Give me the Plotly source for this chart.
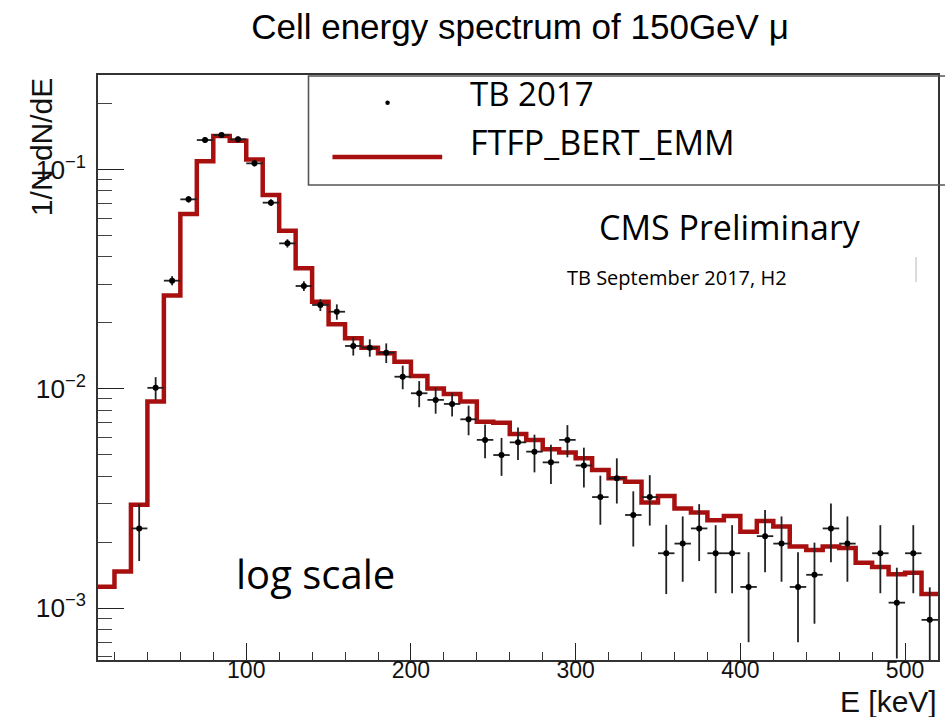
import plotly.graph_objects as go

# ---------------- data ----------------
# Simulation histogram (FTFP_BERT_EMM): 10 keV bins from 10 to 520 keV
bin_edges = list(range(10, 530, 10))
mc_values = [
    0.001254, 0.00147, 0.00296, 0.00874, 0.0266, 0.0626, 0.109, 0.142, 0.135, 0.111,
    0.0764, 0.0525, 0.0354, 0.0249, 0.0197, 0.0170, 0.0154, 0.01452, 0.01329, 0.01143,
    0.01004, 0.00946, 0.00874, 0.00708, 0.00701, 0.00622, 0.00585, 0.0053, 0.00512, 0.00482,
    0.00427, 0.00391, 0.00377, 0.00303, 0.00325, 0.00285, 0.00273, 0.00252, 0.00263, 0.00223,
    0.0025, 0.00236, 0.00191, 0.00184, 0.00191, 0.00188, 0.00161, 0.00154, 0.00143, 0.00145,
    0.00116,
]

# Test beam data (TB 2017): bin centres, values, errors
data_energy = [35, 45, 55, 65, 75, 85, 95, 105, 115, 125,
               135, 145, 155, 165, 175, 185, 195, 205, 215, 225,
               235, 245, 255, 265, 275, 285, 295, 305, 315, 325,
               335, 345, 355, 365, 375, 385, 395, 405, 415, 425,
               435, 445, 455, 465, 485, 495, 505, 515]
data_values = [0.00231, 0.0101, 0.0311, 0.0730, 0.136, 0.1433, 0.137, 0.1065, 0.0705, 0.046,
               0.0294, 0.0241, 0.02245, 0.01567, 0.0154, 0.0146, 0.01135, 0.00954, 0.0089, 0.00853,
               0.00726, 0.00585, 0.00499, 0.00570, 0.00517, 0.00462, 0.00585, 0.00447, 0.00321, 0.00391,
               0.00266, 0.00321, 0.00178, 0.00197, 0.00231, 0.00178, 0.00178, 0.00125, 0.00213, 0.00197,
               0.00125, 0.00142, 0.00231, 0.00197, 0.00178, 0.00106, 0.00178, 0.000885]
data_errors = [0.00067, 0.0012, 0.0015, 0.0025, 0.004, 0.004, 0.004, 0.0035, 0.0025, 0.002,
               0.0015, 0.0015, 0.0018, 0.0015, 0.0014, 0.0015, 0.0014, 0.0013, 0.0012, 0.00105,
               0.00112, 0.00102, 0.00098, 0.00096, 0.00101, 0.00094, 0.00098, 0.00092, 0.00081, 0.00091,
               0.00075, 0.00083, 0.00062, 0.00065, 0.00067, 0.00061, 0.00061, 0.00055, 0.00067, 0.00065,
               0.00055, 0.00057, 0.00069, 0.00065, 0.00061, 0.00047, 0.00061, 0.00036]

x_tick_values = [100, 200, 300, 400, 500]

# ---------------- figure ----------------
W, H = 945, 717
L, R, T, B = 98, 5, 75, 57
PW, PH = W - L - R, H - T - B


def px(xp):
    return (xp - L) / PW


def py(yp):
    return (H - B - yp) / PH


RED = "#A81010"
fig = go.Figure()

fig.add_trace(go.Scatter(
    x=bin_edges, y=mc_values + [mc_values[-1]],
    mode="lines", line=dict(color=RED, width=4.5, shape="hv"),
    showlegend=False, hoverinfo="skip",
))

fig.add_trace(go.Scatter(
    x=data_energy, y=data_values, mode="markers",
    marker=dict(color="black", size=6),
    error_y=dict(type="data", array=data_errors, thickness=1.8, width=0, color="#222"),
    error_x=dict(type="constant", value=5, thickness=1.8, width=0, color="#222"),
    showlegend=False,
))

x_font = dict(family="Liberation Sans, Arial, sans-serif", size=23, color="#111")
y_font = dict(family="Liberation Sans, Arial, sans-serif", size=21, color="#111")

fig.update_xaxes(
    range=[10, 520], tickvals=x_tick_values, ticks="inside", ticklen=17,
    tickwidth=1.3, tickcolor="#222",
    minor=dict(ticks="inside", ticklen=8, dtick=20, tick0=0, tickwidth=1.2, tickcolor="#333", showgrid=False),
    showline=True, linecolor="#333", linewidth=1.6, mirror=True,
    showgrid=False, zeroline=False, tickfont=x_font, ticklabelstandoff=-11,
)
fig.update_yaxes(
    type="log", range=[-3.236, -0.57], dtick=1, exponentformat="power",
    ticks="inside", ticklen=26, tickwidth=1.3, tickcolor="#222",
    minor=dict(ticks="inside", ticklen=14, dtick="D1", tickwidth=1.2, tickcolor="#444", showgrid=False),
    showline=True, linecolor="#333", linewidth=1.6, mirror=True,
    showgrid=False, zeroline=False, tickfont=y_font, ticklabelstandoff=6,
)

txt_font = "Open Sans, Noto Sans, sans-serif"
annotations = [
    dict(text="1/N dN/dE", x=px(41), y=py(147), textangle=-90, xanchor="center", yanchor="middle",
         font=dict(family="Liberation Sans, Arial, sans-serif", size=30, color="#111")),
    dict(text="E [keV]", x=px(941), y=py(701), xanchor="right", yanchor="middle",
         font=dict(family="Liberation Sans, Arial, sans-serif", size=30, color="#111")),
    dict(text="TB 2017", x=px(469), y=py(93), xanchor="left", yanchor="middle",
         font=dict(family=txt_font, size=33, color="black")),
    dict(text="FTFP_BERT_EMM", x=px(469), y=py(142), xanchor="left", yanchor="middle",
         font=dict(family=txt_font, size=34, color="black")),
    dict(text="CMS Preliminary", x=px(598), y=py(227), xanchor="left", yanchor="middle",
         font=dict(family=txt_font, size=34, color="black")),
    dict(text="TB September 2017, H2", x=px(566), y=py(277), xanchor="left", yanchor="middle",
         font=dict(family=txt_font, size=20, color="black")),
    dict(text="log scale", x=px(234), y=py(573), xanchor="left", yanchor="middle",
         font=dict(family=txt_font, size=40, color="black")),
]
for a in annotations:
    a.update(xref="paper", yref="paper", showarrow=False)

shapes = [
    # legend box
    dict(type="rect", x0=px(309), x1=px(952), y0=py(185), y1=py(76),
         line=dict(color="#555", width=1.6), fillcolor="rgba(0,0,0,0)"),
    # legend line sample
    dict(type="line", x0=px(333), x1=px(443), y0=py(157), y1=py(157),
         line=dict(color=RED, width=4.5)),
    # legend dot sample
    dict(type="circle", x0=px(386), x1=px(390.5), y0=py(105), y1=py(100.5),
         fillcolor="black", line=dict(color="black", width=0)),
    # faint artefact line
    dict(type="line", x0=px(918), x1=px(918), y0=py(257), y1=py(282),
         line=dict(color="#cfcfcf", width=1.5)),
]
for s in shapes:
    s.update(xref="paper", yref="paper")

fig.update_layout(
    width=W, height=H,
    margin=dict(l=L, r=R, t=T, b=B),
    paper_bgcolor="white", plot_bgcolor="white",
    title=dict(text="Cell energy spectrum of 150GeV \u03bc", x=520 / W, xanchor="center",
               y=1 - 27 / H, yanchor="middle",
               font=dict(family="Liberation Sans, Arial, sans-serif", size=35, color="#000")),
    annotations=annotations, shapes=shapes,
)

fig.write_html(
    "out.html",
    config={"displayModeBar": False},
    post_script="document.body.style.margin='0';document.body.style.overflow='hidden';",
)
